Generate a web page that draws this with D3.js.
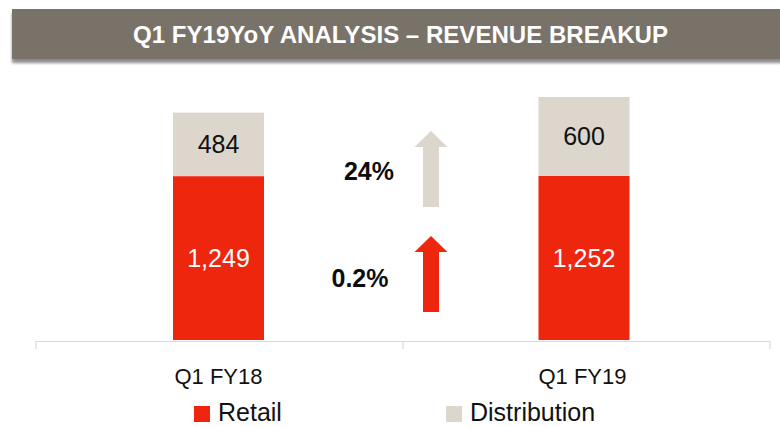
<!DOCTYPE html>
<html lang="en">
<head>
  <meta charset="UTF-8" />
  <title>Q1 FY19 YoY Revenue Breakup</title>
  <script src="https://d3js.org/d3.v7.min.js"></script>
  <style>
    body {
      margin: 0;
      background-color: #ffffff;
      font-family: 'Liberation Sans', Arial, sans-serif;
    }

    svg text {
      font-family: 'Liberation Sans', Arial, sans-serif;
    }
  </style>
</head>
<body>

  <div id="chart"></div>

  <script>
    const categories = ["Q1 FY18", "Q1 FY19"];
    const retail = [1249, 1252];
    const distribution = [484, 600];
    const seriesNames = ["Retail", "Distribution"];
    const growthLabels = ["24%", "0.2%"];
    const titleText = "Q1 FY19YoY ANALYSIS \u2013 REVENUE BREAKUP";

    const colors = { Retail: "#ef260e", Distribution: "#dcd6cd" };

    function buildRows() {
      return categories.map((c, i) => ({
        category: c,
        Retail: retail[i],
        Distribution: distribution[i]
      }));
    }

    function renderChart() {
      const width = 780;
      const height = 427;

      const svg = d3.select("#chart")
        .append("svg")
        .attr("width", width)
        .attr("height", height);

      drawHeader(svg);

      const rows = buildRows();
      const stacked = d3.stack().keys(seriesNames)(rows);

      const x = d3.scaleBand()
        .domain(categories)
        .range([36, 770])
        .paddingInner(0.752)
        .paddingOuter(0.376);

      const y = d3.scaleLinear()
        .domain([0, 2000])
        .range([340, 77.6]);

      drawBars(svg, stacked, x, y);
      drawAxis(svg, x);
      drawGrowth(svg);
      drawLegend(svg);
    }

    function drawHeader(svg) {
      const defs = svg.append("defs");
      const f = defs.append("filter")
        .attr("id", "shadow")
        .attr("x", "-5%").attr("y", "-20%")
        .attr("width", "110%").attr("height", "160%");
      f.append("feDropShadow")
        .attr("dx", 0).attr("dy", 4)
        .attr("stdDeviation", 1.8)
        .attr("flood-color", "#000")
        .attr("flood-opacity", 0.45);

      svg.append("rect")
        .attr("x", 12)
        .attr("y", 9)
        .attr("width", 790)
        .attr("height", 50)
        .attr("fill", "#797268")
        .attr("filter", "url(#shadow)");

      svg.append("text")
        .attr("x", 400.5)
        .attr("y", 43)
        .attr("text-anchor", "middle")
        .attr("fill", "#ffffff")
        .attr("font-weight", "bold")
        .attr("font-size", 23)
        .attr("textLength", 535)
        .attr("lengthAdjust", "spacingAndGlyphs")
        .text(titleText);
    }

    function drawBars(svg, stacked, x, y) {
      // small nudge: the second bar sits a touch left of its band centre
      const nudge = [-1, -2.5];

      const layer = svg.selectAll(".layer")
        .data(stacked)
        .enter()
        .append("g")
        .attr("class", "layer")
        .attr("fill", d => colors[d.key]);

      layer.selectAll("rect")
        .data(d => d)
        .enter()
        .append("rect")
        .attr("x", (d, i) => x(d.data.category) + nudge[i])
        .attr("y", d => y(d[1]))
        .attr("width", x.bandwidth())
        .attr("height", d => y(d[0]) - y(d[1]));

      layer.selectAll("text")
        .data(d => d.map((v, i) => ({ key: d.key, v, i })))
        .enter()
        .append("text")
        .attr("x", d => x(d.v.data.category) + x.bandwidth() / 2 + nudge[d.i])
        .attr("y", d => (y(d.v[0]) + y(d.v[1])) / 2 + 9)
        .attr("text-anchor", "middle")
        .attr("font-size", 25)
        .attr("fill", d => d.key === "Retail" ? "#ffffff" : "#111111")
        .text(d => d3.format(",")(d.v.data[d.key]));
    }

    function drawAxis(svg, x) {
      const [x0, x1] = x.range();
      const step = x.step();
      const ticks = d3.range(categories.length + 1).map(i => x0 + i * step);

      svg.append("line")
        .attr("x1", x0).attr("x2", x1)
        .attr("y1", 341.5).attr("y2", 341.5)
        .attr("stroke", "#d9d9d9")
        .attr("stroke-width", 1.2);

      svg.selectAll(".tick-line")
        .data(ticks)
        .enter()
        .append("line")
        .attr("class", "tick-line")
        .attr("x1", d => d).attr("x2", d => d)
        .attr("y1", 341).attr("y2", 349)
        .attr("stroke", "#d9d9d9")
        .attr("stroke-width", 1.2);

      svg.selectAll(".cat-label")
        .data(categories)
        .enter()
        .append("text")
        .attr("class", "cat-label")
        .attr("x", (d, i) => x(d) + x.bandwidth() / 2 - (i ? 4 : 1))
        .attr("y", 384)
        .attr("text-anchor", "middle")
        .attr("font-size", 22)
        .attr("fill", "#111111")
        .text(d => d);
    }

    function arrowPath(cx, top, bottom) {
      const headW = 16.5, shaftW = 8, headH = 16;
      return `M${cx},${top} L${cx + headW},${top + headH} L${cx + shaftW},${top + headH}
              L${cx + shaftW},${bottom} L${cx - shaftW},${bottom} L${cx - shaftW},${top + headH}
              L${cx - headW},${top + headH} Z`;
    }

    function drawGrowth(svg) {
      const items = [
        { label: growthLabels[0], color: colors.Distribution, top: 131, bottom: 207, tx: 369, ty: 180 },
        { label: growthLabels[1], color: colors.Retail, top: 236, bottom: 312, tx: 360, ty: 287 }
      ];

      items.forEach(it => {
        svg.append("path")
          .attr("d", arrowPath(431, it.top, it.bottom))
          .attr("fill", it.color);

        svg.append("text")
          .attr("x", it.tx)
          .attr("y", it.ty)
          .attr("text-anchor", "middle")
          .attr("font-weight", "bold")
          .attr("font-size", 25)
          .attr("fill", "#0d0d0d")
          .text(it.label);
      });
    }

    function drawLegend(svg) {
      const positions = [194, 446];

      const legend = svg.selectAll(".legend-item")
        .data(seriesNames)
        .enter()
        .append("g")
        .attr("class", "legend-item")
        .attr("transform", (d, i) => `translate(${positions[i]}, 406)`);

      legend.append("rect")
        .attr("width", 16)
        .attr("height", 16)
        .attr("fill", d => colors[d]);

      legend.append("text")
        .attr("x", 24)
        .attr("y", 15)
        .attr("font-size", 25)
        .attr("fill", "#111111")
        .text(d => d);
    }

    renderChart();
  </script>

</body>
</html>
